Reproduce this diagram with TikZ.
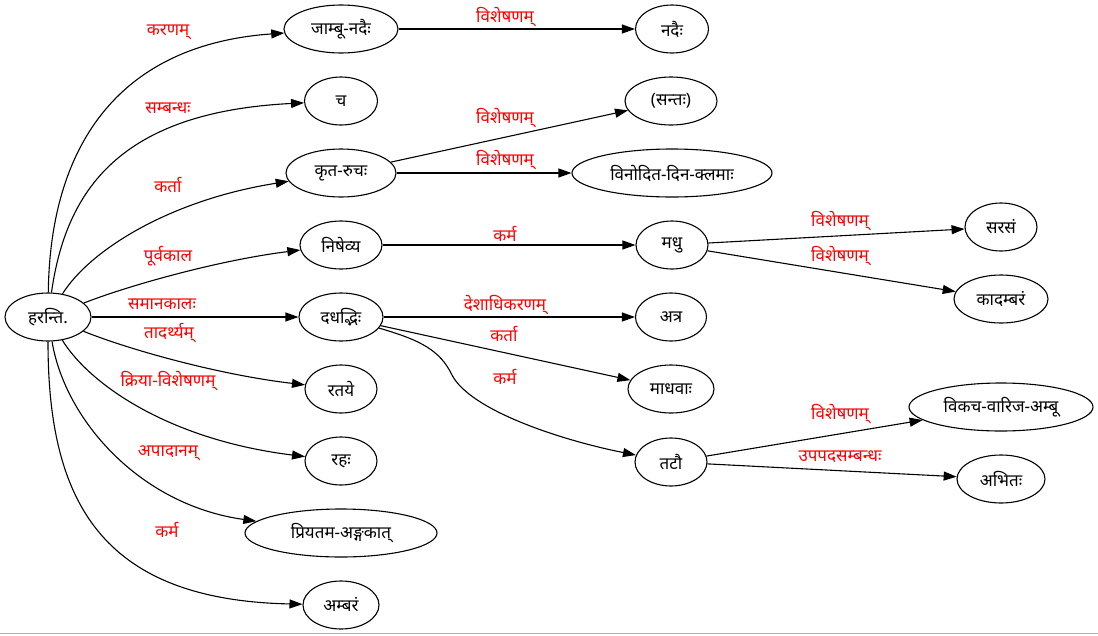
\documentclass[tikz,border=0pt]{standalone}
\usepackage{fontspec}
\newfontfamily\deva[Script=Devanagari]{Noto Sans}
\usetikzlibrary{shapes.geometric,arrows.meta}

\begin{document}
\begin{tikzpicture}[x=1pt,y=-1pt,
  word/.style={ellipse,draw,line width=1.1pt,minimum height=48pt,inner sep=0pt,
    font=\deva\fontsize{17}{19}\selectfont},
  rel/.style={text=red,inner sep=0pt,font=\deva\fontsize{17}{19}\selectfont},
  edge/.style={line width=1.1pt,-{Triangle[length=13pt,width=9pt]}}]
  \useasboundingbox (0,0) rectangle (1098,635);
  \node[word,minimum width=86pt] (harant) at (48,317) {हरन्ति.};
  \node[word,minimum width=114pt] (jambu) at (341,29) {जाम्बू-नदैः};
  \node[word,minimum width=73pt] (nadaih) at (672,29) {नदैः};
  \node[word,minimum width=73pt] (ca) at (341,101) {च};
  \node[word,minimum width=92pt] (santah) at (671,101) {(सन्तः)};
  \node[word,minimum width=110pt] (krta) at (341,173) {कृत-रुचः};
  \node[word,minimum width=200pt] (vinodita) at (672,173) {विनोदित-दिन-क्लमाः};
  \node[word,minimum width=82pt] (nishevya) at (341,245) {निषेव्य};
  \node[word,minimum width=72pt] (madhu) at (672,245) {मधु};
  \node[word,minimum width=72pt] (sarasam) at (1001,227) {सरसं};
  \node[word,minimum width=94pt] (kadambaram) at (1001,299) {कादम्बरं};
  \node[word,minimum width=84pt] (dadh) at (341,317) {दधद्भिः};
  \node[word,minimum width=71pt] (atra) at (671,317) {अत्र};
  \node[word,minimum width=86pt] (madhavah) at (671,389) {माधवाः};
  \node[word,minimum width=72pt] (tatau) at (671,462) {तटौ};
  \node[word,minimum width=184pt] (vikaca) at (1001,407) {विकच-वारिज-अम्बू};
  \node[word,minimum width=88pt] (abhitah) at (1001,479) {अभितः};
  \node[word,minimum width=72pt] (ratay) at (341,389) {रतये};
  \node[word,minimum width=72pt] (rahah) at (341,461) {रहः};
  \node[word,minimum width=192pt] (priya) at (341,533) {प्रियतम-अङ्गकात्};
  \node[word,minimum width=76pt] (ambaram) at (341,605) {अम्बरं};

  \draw[edge] (harant) .. controls (50,150) and (115,45) .. (jambu);
  \draw[edge] (harant) .. controls (66,190) and (120,112) .. (ca);
  \draw[edge] (harant) .. controls (90,250) and (170,200) .. (krta);
  \draw[edge] (harant) .. controls (130,285) and (220,260) .. (nishevya);
  \draw[edge] (harant) -- (dadh);
  \draw[edge] (harant) .. controls (130,350) and (220,375) .. (ratay);
  \draw[edge] (harant) .. controls (90,385) and (170,440) .. (rahah);
  \draw[edge] (harant) .. controls (65,420) and (140,505) .. (priya);
  \draw[edge] (harant) .. controls (48,500) and (100,600) .. (ambaram);
  \draw[edge] (jambu) -- (nadaih);
  \draw[edge] (krta) -- (santah);
  \draw[edge] (krta) -- (vinodita);
  \draw[edge] (nishevya) -- (madhu);
  \draw[edge] (madhu) -- (sarasam);
  \draw[edge] (madhu) -- (kadambaram);
  \draw[edge] (dadh) -- (atra);
  \draw[edge] (dadh) -- (madhavah);
  \draw[edge] (dadh) .. controls (420,340) and (440,350) .. (452,375)
    .. controls (470,410) and (560,440) .. (tatau);
  \draw[edge] (tatau) -- (vikaca);
  \draw[edge] (tatau) -- (abhitah);

  \node[rel] (l1) at (168,32) {करणम्};
  \node[rel] (l2) at (168,108) {सम्बन्धः};
  \node[rel] (l3) at (168,185) {कर्ता};
  \node[rel] (l4) at (168,256) {पूर्वकाल};
  \node[rel] (l5) at (162,304) {समानकालः};
  \node[rel] (l6) at (169,333) {तादर्थ्यम्};
  \node[rel] (l7) at (168,381) {क्रिया-विशेषणम्};
  \node[rel] (l8) at (168,453) {अपादानम्};
  \node[rel] (l9) at (167,530) {कर्म};
  \node[rel] (l10) at (505,17) {विशेषणम्};
  \node[rel] (l11) at (505,118) {विशेषणम्};
  \node[rel] (l12) at (505,160) {विशेषणम्};
  \node[rel] (l13) at (505,234) {कर्म};
  \node[rel] (l14) at (840,221) {विशेषणम्};
  \node[rel] (l15) at (840,256) {विशेषणम्};
  \node[rel] (l16) at (505,305) {देशाधिकरणम्};
  \node[rel] (l17) at (504,334) {कर्ता};
  \node[rel] (l18) at (505,377) {कर्म};
  \node[rel] (l19) at (840,414) {विशेषणम्};
  \node[rel] (l20) at (840,457) {उपपदसम्बन्धः};
  \draw[gray!60,line width=1pt] (0,633) -- (1098,633);
\end{tikzpicture}
\end{document}
